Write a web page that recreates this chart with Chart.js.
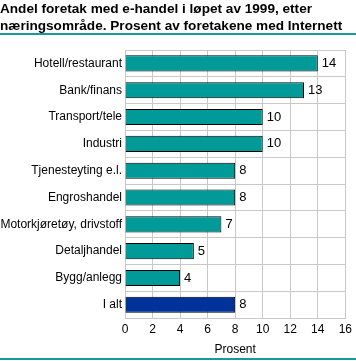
<!DOCTYPE html>
<html><head><meta charset="utf-8">
<script src="https://cdn.jsdelivr.net/npm/chart.js@4"></script>
<style>html,body{margin:0;padding:0;background:#fff}#w{width:356px;height:361px}</style>
</head><body><div id="w"><canvas id="c" width="356" height="361"></canvas></div>
<script>
const categories = ["Hotell/restaurant","Bank/finans","Transport/tele","Industri","Tjenesteyting e.l.","Engroshandel","Motorkjøretøy, drivstoff","Detaljhandel","Bygg/anlegg","I alt"];
const values = [14,13,10,10,8,8,7,5,4,8];
const barColors = ["#009a98","#009a98","#009a98","#009a98","#009a98","#009a98","#009a98","#009a98","#009a98","#003399"];
const titleLines = ["Andel foretak med e-handel i løpet av 1999, etter","næringsområde. Prosent av foretakene med Internett"];
const xTitle = "Prosent";
const FONT = "'Liberation Sans', Arial, sans-serif";

const deco = {
  id:'deco',
  afterDraw(chart){
    const ctx = chart.ctx;
    ctx.save();
    ctx.strokeStyle = '#1a9a96'; ctx.lineWidth = 2;
    ctx.beginPath(); ctx.moveTo(0,34); ctx.lineTo(356,34); ctx.stroke();
    ctx.beginPath(); ctx.moveTo(0,359); ctx.lineTo(356,359); ctx.stroke();
    const meta = chart.getDatasetMeta(0);
    ctx.fillStyle = '#000'; ctx.font = "13px " + FONT; ctx.textBaseline = 'middle'; ctx.textAlign='left';
    meta.data.forEach((el,i)=>{ ctx.fillText(String(values[i]), el.x + 4, el.y); });
    ctx.restore();
  }
};

new Chart(document.getElementById('c'), {
  type:'bar',
  data:{labels:categories, datasets:[{data:values, backgroundColor:barColors, borderColor:'#000', borderWidth:1, barPercentage:0.6, categoryPercentage:1.0}]},
  options:{
    indexAxis:'y', responsive:false, animation:false,
    layout:{padding:{left:0,right:6,top:0,bottom:4}},
    plugins:{
      legend:{display:false}, tooltip:{enabled:false},
      title:{display:true, text:titleLines, align:'start', color:'#000', font:{family:FONT, size:13.6, weight:'bold', lineHeight:1.25}, padding:{top:1,bottom:15}}
    },
    scales:{
      x:{min:0,max:16, ticks:{stepSize:2, color:'#000', font:{family:FONT,size:12}, padding:4},
         grid:{color:'#c8c8c8', drawTicks:false}, border:{color:'#c8c8c8'},
         title:{display:true,text:xTitle,color:'#000',font:{family:FONT,size:12},padding:{top:2,bottom:0}}},
      y:{ticks:{color:'#000', font:{family:FONT,size:12}, padding:3, autoSkip:false},
         grid:{color:'#c8c8c8', drawTicks:false, offset:true}, border:{color:'#c8c8c8'},
         afterFit(s){ s.width = 125; }}
    }
  },
  plugins:[deco]
});
</script></body></html>
